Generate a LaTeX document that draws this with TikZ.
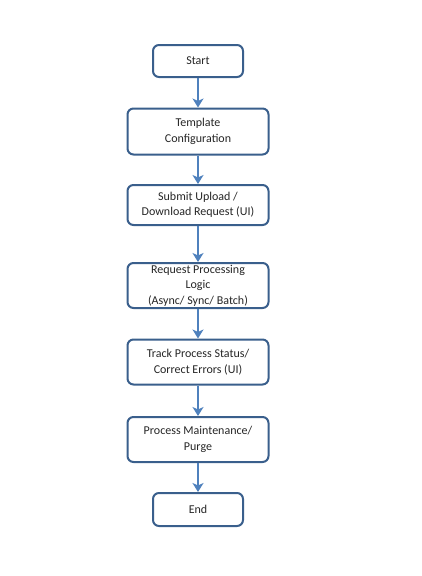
\documentclass[tikz,border=0pt]{standalone}
\usepackage{fontspec}
\setmainfont{Carlito}
\usetikzlibrary{arrows.meta}
\definecolor{boxline}{HTML}{3A5F8C}
\definecolor{arrowc}{HTML}{4F81BD}
\tikzset{
  stepbox/.style={draw=boxline, line width=2pt, rounded corners=6pt, fill=white,
    align=center, font=\fontsize{12}{15.5}\selectfont, inner sep=0pt, text=black!85},
  flowarrow/.style={draw=arrowc, line width=2pt, -{Stealth[length=9pt,width=11pt,inset=2.5pt]}}
}
\begin{document}
\begin{tikzpicture}[x=1pt,y=-1pt]
\useasboundingbox (0,0) rectangle (422,576);
\node[stepbox, minimum width=90pt, minimum height=32pt] (start) at (198,61) {Start};
\node[stepbox, minimum width=141pt, minimum height=46pt] (tmpl) at (198,131.5) {Template\\Configuration};
\node[stepbox, minimum width=141pt, minimum height=40pt] (submit) at (198,205) {Submit Upload /\\Download Request (UI)};
\node[stepbox, minimum width=141pt, minimum height=45pt] (req) at (198,285.5) {Request Processing\\Logic\\(Async/ Sync/ Batch)};
\node[stepbox, minimum width=141pt, minimum height=45pt] (track) at (198,362) {Track Process Status/\\Correct Errors (UI)};
\node[stepbox, minimum width=141pt, minimum height=45pt] (maint) at (198,439.5) {Process Maintenance/\\Purge};
\node[stepbox, minimum width=90pt, minimum height=33pt] (end) at (198,509.5) {End};
\draw[flowarrow] (start) -- (tmpl);
\draw[flowarrow] (tmpl) -- (submit);
\draw[flowarrow] (submit) -- (req);
\draw[flowarrow] (req) -- (track);
\draw[flowarrow] (track) -- (maint);
\draw[flowarrow] (maint) -- (end);
\end{tikzpicture}
\end{document}
